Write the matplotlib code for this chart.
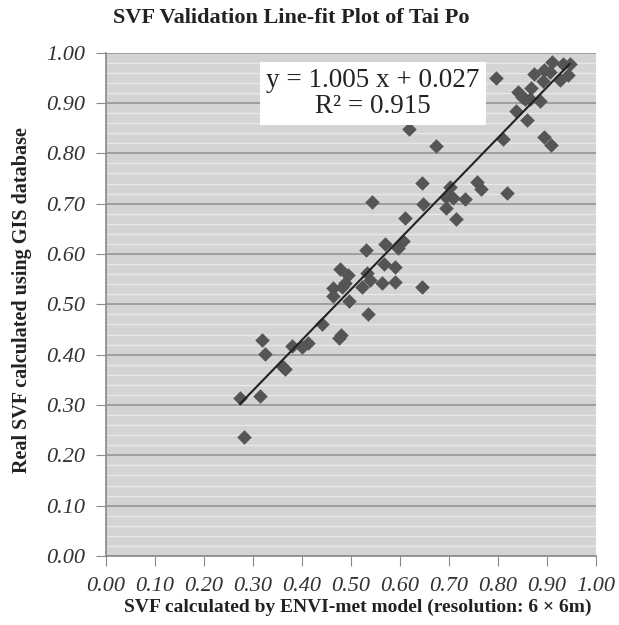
import matplotlib.pyplot as plt
import numpy as np

# --- data ---
envi_svf = [0.274, 0.281, 0.315, 0.318, 0.324, 0.359, 0.365, 0.380, 0.400, 0.413,
            0.441, 0.475, 0.480, 0.463, 0.463, 0.482, 0.488, 0.478, 0.495, 0.497,
            0.522, 0.534, 0.539, 0.533, 0.563, 0.590, 0.531, 0.567, 0.590, 0.570,
            0.597, 0.607, 0.611, 0.543, 0.645, 0.648, 0.645, 0.618, 0.674, 0.694,
            0.703, 0.708, 0.694, 0.715, 0.732, 0.757, 0.766, 0.818, 0.810, 0.796,
            0.837, 0.859, 0.840, 0.849, 0.854, 0.865, 0.886, 0.867, 0.892, 0.873,
            0.893, 0.907, 0.910, 0.927, 0.942, 0.933, 0.946, 0.893, 0.909]
gis_svf = [0.313, 0.237, 0.317, 0.429, 0.402, 0.378, 0.372, 0.418, 0.416, 0.423,
           0.461, 0.433, 0.439, 0.532, 0.517, 0.535, 0.543, 0.570, 0.559, 0.506,
           0.534, 0.480, 0.549, 0.562, 0.542, 0.545, 0.608, 0.581, 0.575, 0.620,
           0.612, 0.625, 0.671, 0.704, 0.742, 0.699, 0.535, 0.848, 0.814, 0.714,
           0.733, 0.711, 0.691, 0.669, 0.710, 0.743, 0.730, 0.722, 0.828, 0.950,
           0.885, 0.867, 0.921, 0.912, 0.907, 0.907, 0.905, 0.930, 0.943, 0.958,
           0.965, 0.961, 0.981, 0.945, 0.956, 0.978, 0.978, 0.832, 0.817]

slope = 1.005
intercept = 0.027
r2 = 0.915

tick_vals = [0.0, 0.1, 0.2, 0.3, 0.4, 0.5, 0.6, 0.7, 0.8, 0.9, 1.0]

plt.rcParams['font.family'] = ['Liberation Serif', 'DejaVu Serif']

fig = plt.figure(figsize=(6.19, 6.25), dpi=100)
ax = fig.add_axes([0.1708, 0.1104, 0.7922, 0.8053])
ax.set_facecolor('#d4d4d4')

# horizontal grid lines (minor every 0.02, major every 0.1)
ax.set_yticks(tick_vals)
ax.set_yticks(np.arange(0, 1.0001, 0.02), minor=True)
ax.yaxis.grid(True, which='minor', color='#e8e8e8', linewidth=1.0)
ax.yaxis.grid(True, which='major', color='#959595', linewidth=1.2)
ax.set_axisbelow(True)

ax.scatter(envi_svf, gis_svf, marker='D', s=55, color='#555555', zorder=3, linewidths=0)

xs = np.array([min(envi_svf), max(envi_svf)])
ax.plot(xs, slope * xs + intercept, color='#222222', linewidth=1.5, zorder=4)

ax.set_xlim(0, 1)
ax.set_ylim(0, 1)
ax.set_xticks(tick_vals)
ax.set_xticklabels([f"{v:.2f}" for v in tick_vals])
ax.set_yticklabels([f"{v:.2f}" for v in tick_vals])

for s in ['top', 'right']:
    ax.spines[s].set_visible(False)
for s in ['left', 'bottom']:
    ax.spines[s].set_color('#8a8a8a')
    ax.spines[s].set_linewidth(1.2)

ax.tick_params(which='major', direction='out', length=7, color='#8a8a8a',
               labelsize=16, labelcolor='#333333', pad=8)
ax.tick_params(which='minor', length=0)
for lab in ax.get_xticklabels() + ax.get_yticklabels():
    lab.set_fontstyle('italic')

ax.text(0.545, 0.970, f"y = {slope:.3f} x + {intercept:.3f}\nR² = {r2:.3f}",
        transform=ax.transAxes, ha='center', va='top', fontsize=19.5,
        color='#222222', linespacing=1.05, zorder=5,
        bbox=dict(boxstyle='square,pad=0.22', facecolor='white', edgecolor='none'))

fig.text(0.471, 0.971, "SVF Validation Line-fit Plot of Tai Po", ha='center', va='center',
         fontsize=16, fontweight='bold', color='#222222')
fig.text(0.578, 0.029, "SVF calculated by ENVI-met model (resolution: 6 × 6m)",
         ha='center', va='center', fontsize=14, fontweight='bold', color='#222222')
fig.text(0.035, 0.52, "Real SVF calculated using GIS database", ha='center', va='center',
         rotation=90, fontsize=14.5, fontweight='bold', color='#222222')

fig.savefig('out.png', dpi=100)
